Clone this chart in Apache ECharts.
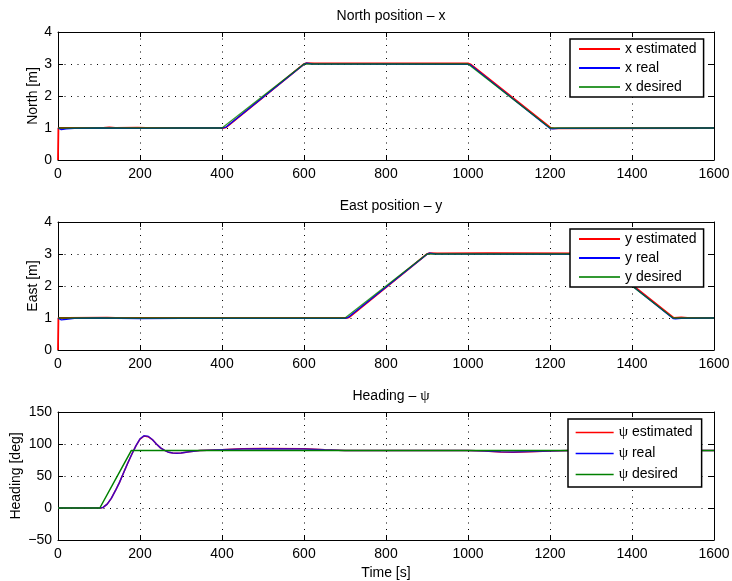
<!DOCTYPE html>
<html>
<head>
<meta charset="utf-8">
<script src="https://cdn.jsdelivr.net/npm/echarts@6/dist/echarts.min.js"></script>
<style>html,body{margin:0;padding:0;background:#fff}#c{width:732px;height:581px}</style>
</head>
<body>
<div id="c"></div>
<script>
// ---- Data ----
const timeTicks = [0, 200, 400, 600, 800, 1000, 1200, 1400, 1600];

const xEstimated = [[0,0],[1,1.0],[20,1.0],[110,1.0],[125,1.015],[140,1.0],[195,1.01],[215,1.0],[402,1.0],[410,1.02],[600,3.0],[606,3.03],[625,3.02],[1000,3.02],[1006,2.99],[1202,1.0],[1210,0.99],[1600,1.0]];
const xReal = [[0,1.0],[8,0.95],[20,0.97],[40,0.99],[100,1.0],[200,0.99],[300,1.0],[402,1.0],[410,1.03],[600,2.99],[606,3.03],[620,3.0],[1000,2.99],[1006,2.97],[1201,0.98],[1206,0.97],[1220,0.99],[1600,1.0]];
const xDesired = [[0,1],[400,1],[600,3],[1000,3],[1200,1],[1600,1]];

const yEstimated = [[0,0],[1,1.0],[20,1.0],[120,1.01],[140,1.0],[702,1.0],[710,1.02],[900,3.0],[906,3.03],[925,3.02],[1050,3.03],[1300,3.02],[1306,2.99],[1502,1.0],[1520,1.02],[1535,1.0],[1600,1.0]];
const yReal = [[0,1.0],[8,0.94],[20,0.96],[40,0.99],[100,1.0],[200,0.98],[300,0.99],[700,0.99],[708,1.02],[900,2.99],[906,3.03],[920,3.0],[1300,2.99],[1306,2.97],[1501,0.98],[1506,0.97],[1520,0.99],[1600,1.0]];
const yDesired = [[0,1],[700,1],[900,3],[1300,3],[1500,1],[1600,1]];

const psiEstimated = [[0,0],[104,0],[110,1],[120,6],[130,15],[140,27],[150,40],[160,55],[170,70],[180,84],[190,97],[200,107.5],[210,112.5],[220,111.5],[230,107],[240,100],[250,94],[260,90],[270,87],[280,86],[290,85.5],[300,86],[320,88],[346,90],[400,91],[450,92.5],[500,93],[600,92.5],[650,91],[700,90],[1000,90],[1040,89],[1080,87.5],[1110,87],[1150,87.8],[1200,89],[1250,90],[1600,90]];
const psiReal = [[0,0],[104,0],[110,1],[120,6],[130,15],[140,27],[150,40],[160,55],[170,70],[180,84],[190,97],[200,108],[210,113],[220,112],[230,107],[240,100],[250,94],[260,90],[270,87],[280,86],[290,85.5],[300,86],[320,88],[346,90],[400,91],[450,92],[500,92.5],[600,92.3],[650,91],[700,90],[1000,90],[1040,89],[1080,87.8],[1110,87.5],[1150,88.2],[1200,89],[1250,90],[1600,90]];
const psiDesired = [[0,0],[102,0],[179,90],[1600,90]];

const panelTitles = ['North position \u2013 x', 'East position \u2013 y', 'Heading \u2013 {s|\u03c8}'];
const yNames = ['North [m]', 'East [m]', 'Heading [deg]'];
const yRanges = [[0,4,1],[0,4,1],[-50,150,50]];

// ---- Layout ----
const FONT = 'Liberation Sans';
const tops = [32, 222, 412];
const grids = tops.map(t => ({left: 58, width: 656, top: t, height: 128, show: false,
  containLabel: false, outerBoundsMode: 'none'}));

const xAxes = [], yAxes = [];
for (let i = 0; i < 3; i++) {
  xAxes.push({
    type: 'value', gridIndex: i, min: 0, max: 1600, interval: 200, position: 'bottom',
    axisLine: {show: true, onZero: false, lineStyle: {color: '#000', width: 1}},
    axisTick: {show: true, inside: true, length: 5, lineStyle: {color: '#000'}},
    axisLabel: {show: true, color: '#000', fontFamily: FONT, fontSize: 14, margin: 7,
      formatter: v => String(v)},
    splitLine: {show: true, lineStyle: {color: '#000', type: [1, 5.5], width: 1}},
    name: i === 2 ? 'Time [s]' : '', nameLocation: 'middle', nameGap: 26, nameMoveOverlap: false,
    nameTextStyle: {color: '#000', fontFamily: FONT, fontSize: 14}
  });
  xAxes.push({
    type: 'value', gridIndex: i, min: 0, max: 1600, interval: 200, position: 'top',
    axisLine: {show: true, onZero: false, lineStyle: {color: '#000', width: 1}},
    axisTick: {show: true, inside: true, length: 5, lineStyle: {color: '#000'}},
    axisLabel: {show: false}, splitLine: {show: false}
  });
  const r = yRanges[i];
  yAxes.push({
    type: 'value', gridIndex: i, min: r[0], max: r[1], interval: r[2], position: 'left',
    axisLine: {show: true, onZero: false, lineStyle: {color: '#000', width: 1}},
    axisTick: {show: true, inside: true, length: 5, lineStyle: {color: '#000'}},
    axisLabel: {show: true, color: '#000', fontFamily: FONT, fontSize: 14, margin: 6,
      formatter: v => (v < 0 ? '\u2212' + Math.abs(v) : String(v))},
    splitLine: {show: true, lineStyle: {color: '#000', type: [1, 5.5], width: 1}},
    name: yNames[i], nameLocation: 'middle', nameGap: i === 2 ? 35 : 18, nameMoveOverlap: false,
    nameTextStyle: {color: '#000', fontFamily: FONT, fontSize: 14}
  });
  yAxes.push({
    type: 'value', gridIndex: i, min: r[0], max: r[1], interval: r[2], position: 'right',
    axisLine: {show: true, onZero: false, lineStyle: {color: '#000', width: 1}},
    axisTick: {show: true, inside: true, length: 5, lineStyle: {color: '#000'}},
    axisLabel: {show: false}, splitLine: {show: false}
  });
}

function line(name, data, gi, color, width, z, opacity) {
  return {
    name: name, type: 'line', xAxisIndex: gi * 2, yAxisIndex: gi * 2, data: data,
    symbol: 'none', showSymbol: false, animation: false, z: z, clip: true,
    lineStyle: {color: color, width: width, opacity: opacity == null ? 1 : opacity},
    itemStyle: {color: color}
  };
}

const series = [
  line('x estimated', xEstimated, 0, '#ff0000', 1.8, 2),
  line('x real', xReal, 0, '#0000ff', 1.3, 3),
  line('x desired', xDesired, 0, '#008000', 1.3, 4, 0.8),
  line('y estimated', yEstimated, 1, '#ff0000', 1.8, 2),
  line('y real', yReal, 1, '#0000ff', 1.3, 3),
  line('y desired', yDesired, 1, '#008000', 1.3, 4, 0.8),
  line('\u03c8 estimated', psiEstimated, 2, '#ff0000', 1.5, 2),
  line('\u03c8 real', psiReal, 2, '#0000ff', 1.5, 3, 0.75),
  line('\u03c8 desired', psiDesired, 2, '#008000', 1.5, 4)
];

const legendBase = {
  orient: 'vertical', backgroundColor: '#fff', borderColor: '#000', borderWidth: 1.5,
  borderRadius: 0, itemHeight: 14, selectedMode: false, z: 20,
  itemStyle: {opacity: 0},
  textStyle: {color: '#000', fontFamily: FONT, fontSize: 14,
    rich: {s: {fontFamily: 'Liberation Serif', fontSize: 15, color: '#000'}}},
  formatter: n => n.replace('\u03c8', '{s|\u03c8}')
};
const legends = [
  Object.assign({}, legendBase, {left: 570, top: 39, itemWidth: 41, itemGap: 5, padding: [3, 7, 3, 8],
    data: ['x estimated', 'x real', 'x desired']}),
  Object.assign({}, legendBase, {left: 570, top: 229, itemWidth: 41, itemGap: 5, padding: [3, 7, 3, 8],
    data: ['y estimated', 'y real', 'y desired']}),
  Object.assign({}, legendBase, {left: 568, top: 419, itemWidth: 38, itemGap: 6, padding: [6, 9, 5, 7],
    lineStyle: {width: 1.3},
    data: ['\u03c8 estimated', {name: '\u03c8 real', lineStyle: {opacity: 1}}, '\u03c8 desired']})
];

const titles = panelTitles.map((t, i) => ({
  text: t, left: 386, textAlign: 'center', top: tops[i] - 28,
  textStyle: {color: '#000', fontFamily: FONT, fontSize: 14, fontWeight: 'normal',
    rich: {s: {fontFamily: 'Liberation Serif', fontSize: 15, color: '#000'}}}
}));

const chart = echarts.init(document.getElementById('c'), null, {renderer: 'canvas'});
chart.setOption({
  backgroundColor: '#fff', animation: false,
  title: titles, grid: grids, xAxis: xAxes, yAxis: yAxes, legend: legends, series: series
});
</script>
</body>
</html>
